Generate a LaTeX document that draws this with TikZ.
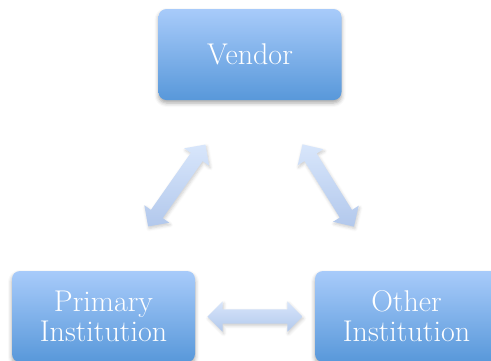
\documentclass[tikz,border=0pt]{standalone}
\usepackage{tikz}
\usetikzlibrary{shapes.arrows,shadows.blur}

\definecolor{boxtop}{RGB}{168,203,250}
\definecolor{boxbottom}{RGB}{88,152,218}
\definecolor{linklight}{RGB}{216,230,251}
\definecolor{linkdark}{RGB}{178,200,236}

\begin{document}
\begin{tikzpicture}[x=1pt, y=-1pt,
  party/.style={rectangle, rounded corners=8pt, minimum width=183pt, minimum height=91pt,
    top color=boxtop, bottom color=boxbottom, text=white, align=center,
    font=\fontsize{30}{30}\selectfont,
    blur shadow={shadow xshift=0pt, shadow yshift=-3pt, shadow blur radius=4pt, shadow opacity=35}},
  link/.style={double arrow, minimum width=30pt, inner xsep=0pt, inner ysep=7pt,
    double arrow head extend=8pt, top color=linklight, bottom color=linkdark,
    blur shadow={shadow xshift=1pt, shadow yshift=-2pt, shadow blur radius=3pt, shadow opacity=20}}]
  \useasboundingbox (0,0) rectangle (491,360);
  \clip (0,0) rectangle (491,360);

  % the three parties
  \node[party] (vendor) at (250,54.5) {Vendor};
  \node[party] (primary) at (103.5,316.5) {Primary\\Institution};
  \node[party] (other) at (406.5,316.5) {Other\\Institution};

  % two-way links between them
  \path (vendor) -- node[link, minimum height=100pt, rotate=55] {} (primary);
  \path (vendor) -- node[link, minimum height=97pt, rotate=122] {} (other);
  \path (primary) -- node[link, minimum height=95pt] {} (other);
\end{tikzpicture}
\end{document}
